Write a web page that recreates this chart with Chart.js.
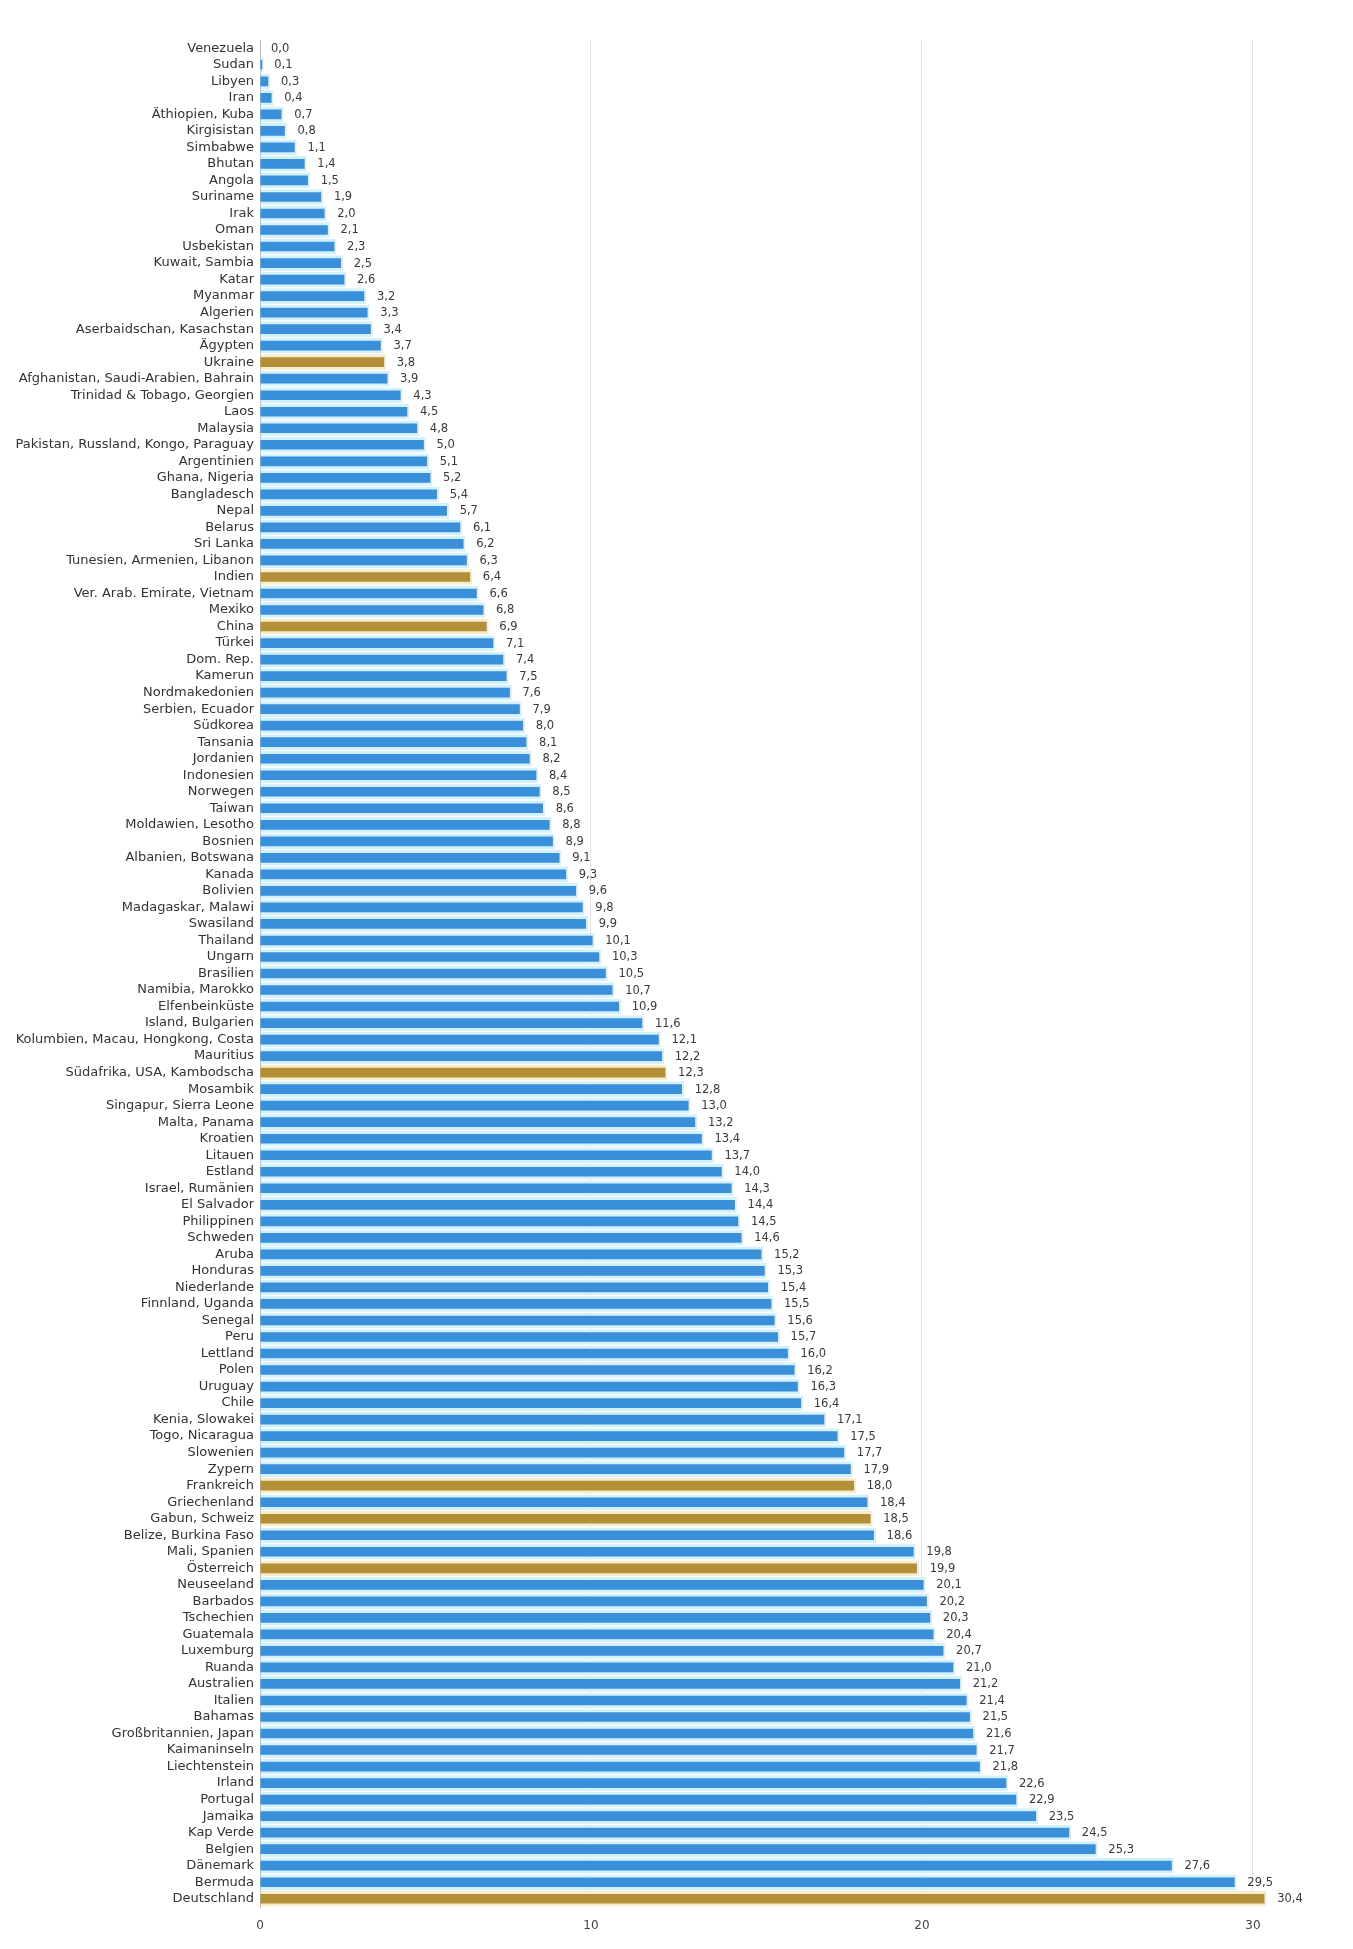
<!DOCTYPE html>
<html>
<head>
<meta charset="utf-8">
<script src="https://cdn.jsdelivr.net/npm/chart.js@4.4.1/dist/chart.umd.min.js"></script>
<style>
html,body{margin:0;padding:0;background:#fff;}
#wrap{position:relative;width:1353px;height:1949px;}
</style>
</head>
<body>
<div id="wrap"><canvas id="c"></canvas></div>
<script>
const categories = [
"Venezuela","Sudan","Libyen","Iran","Äthiopien, Kuba","Kirgisistan","Simbabwe","Bhutan","Angola","Suriname",
"Irak","Oman","Usbekistan","Kuwait, Sambia","Katar","Myanmar","Algerien","Aserbaidschan, Kasachstan","Ägypten","Ukraine",
"Afghanistan, Saudi-Arabien, Bahrain","Trinidad & Tobago, Georgien","Laos","Malaysia","Pakistan, Russland, Kongo, Paraguay","Argentinien","Ghana, Nigeria","Bangladesch","Nepal","Belarus",
"Sri Lanka","Tunesien, Armenien, Libanon","Indien","Ver. Arab. Emirate, Vietnam","Mexiko","China","Türkei","Dom. Rep.","Kamerun","Nordmakedonien",
"Serbien, Ecuador","Südkorea","Tansania","Jordanien","Indonesien","Norwegen","Taiwan","Moldawien, Lesotho","Bosnien","Albanien, Botswana",
"Kanada","Bolivien","Madagaskar, Malawi","Swasiland","Thailand","Ungarn","Brasilien","Namibia, Marokko","Elfenbeinküste","Island, Bulgarien",
"Kolumbien, Macau, Hongkong, Costa","Mauritius","Südafrika, USA, Kambodscha","Mosambik","Singapur, Sierra Leone","Malta, Panama","Kroatien","Litauen","Estland","Israel, Rumänien",
"El Salvador","Philippinen","Schweden","Aruba","Honduras","Niederlande","Finnland, Uganda","Senegal","Peru","Lettland",
"Polen","Uruguay","Chile","Kenia, Slowakei","Togo, Nicaragua","Slowenien","Zypern","Frankreich","Griechenland","Gabun, Schweiz",
"Belize, Burkina Faso","Mali, Spanien","Österreich","Neuseeland","Barbados","Tschechien","Guatemala","Luxemburg","Ruanda","Australien",
"Italien","Bahamas","Großbritannien, Japan","Kaimaninseln","Liechtenstein","Irland","Portugal","Jamaika","Kap Verde","Belgien",
"Dänemark","Bermuda","Deutschland"
];
const values = [
0.0,0.1,0.3,0.4,0.7,0.8,1.1,1.4,1.5,1.9,
2.0,2.1,2.3,2.5,2.6,3.2,3.3,3.4,3.7,3.8,
3.9,4.3,4.5,4.8,5.0,5.1,5.2,5.4,5.7,6.1,
6.2,6.3,6.4,6.6,6.8,6.9,7.1,7.4,7.5,7.6,
7.9,8.0,8.1,8.2,8.4,8.5,8.6,8.8,8.9,9.1,
9.3,9.6,9.8,9.9,10.1,10.3,10.5,10.7,10.9,11.6,
12.1,12.2,12.3,12.8,13.0,13.2,13.4,13.7,14.0,14.3,
14.4,14.5,14.6,15.2,15.3,15.4,15.5,15.6,15.7,16.0,
16.2,16.3,16.4,17.1,17.5,17.7,17.9,18.0,18.4,18.5,
18.6,19.8,19.9,20.1,20.2,20.3,20.4,20.7,21.0,21.2,
21.4,21.5,21.6,21.7,21.8,22.6,22.9,23.5,24.5,25.3,
27.6,29.5,30.4
];
const highlighted = ["Ukraine","Indien","China","Südafrika, USA, Kambodscha","Frankreich","Gabun, Schweiz","Österreich","Deutschland"];
const xTicks = [0,10,20,30];

const BLUE = '#3a8fdb', BLUE_HALO = '#d3f1fb';
const GOLD = '#b38f38', GOLD_HALO = '#f6edcc';
const isHi = i => highlighted.includes(categories[i]);

const valueLabels = {
  id: 'valueLabels',
  afterDatasetsDraw(chart) {
    const ctx = chart.ctx;
    const meta = chart.getDatasetMeta(0);
    ctx.save();
    ctx.font = '11.5px "DejaVu Sans", sans-serif';
    ctx.fillStyle = '#3a3a3a';
    ctx.textAlign = 'left';
    ctx.textBaseline = 'middle';
    meta.data.forEach((el, i) => {
      const v = values[i];
      ctx.fillText(v.toFixed(1).replace('.', ','), el.x + 11, el.y + 0.5);
    });
    ctx.restore();
  }
};

Chart.defaults.font.family = '"DejaVu Sans", sans-serif';
Chart.defaults.color = '#333';

new Chart(document.getElementById('c'), {
  type: 'bar',
  data: {
    labels: categories,
    datasets: [{
      data: values,
      backgroundColor: ctx => isHi(ctx.dataIndex) ? GOLD : BLUE,
      borderColor: ctx => isHi(ctx.dataIndex) ? GOLD_HALO : BLUE_HALO,
      borderWidth: {top: 3, bottom: 3, right: 2, left: 0},
      borderSkipped: 'start',
      barThickness: 15
    }]
  },
  options: {
    indexAxis: 'y',
    responsive: true,
    maintainAspectRatio: false,
    animation: false,
    layout: { padding: { top: 40, right: 67, bottom: 0, left: 0 } },
    plugins: { legend: { display: false }, tooltip: { enabled: false } },
    scales: {
      x: {
        min: 0, max: 31,
        afterBuildTicks: s => { s.ticks = xTicks.map(v => ({ value: v })); },
        afterFit: s => { s.height = 42; },
        grid: { color: '#e4e4e4', lineWidth: 1, drawTicks: false },
        border: { display: false },
        ticks: { padding: 12, font: { size: 12 }, color: '#444', callback: v => String(v) }
      },
      y: {
        afterFit: s => { s.width = 260; },
        grid: { display: false, drawTicks: false },
        border: { display: true, color: '#b8b8b8', width: 1 },
        ticks: { padding: 6, font: { size: 13 }, color: '#333', autoSkip: false }
      }
    }
  },
  plugins: [valueLabels]
});
</script>
</body>
</html>
